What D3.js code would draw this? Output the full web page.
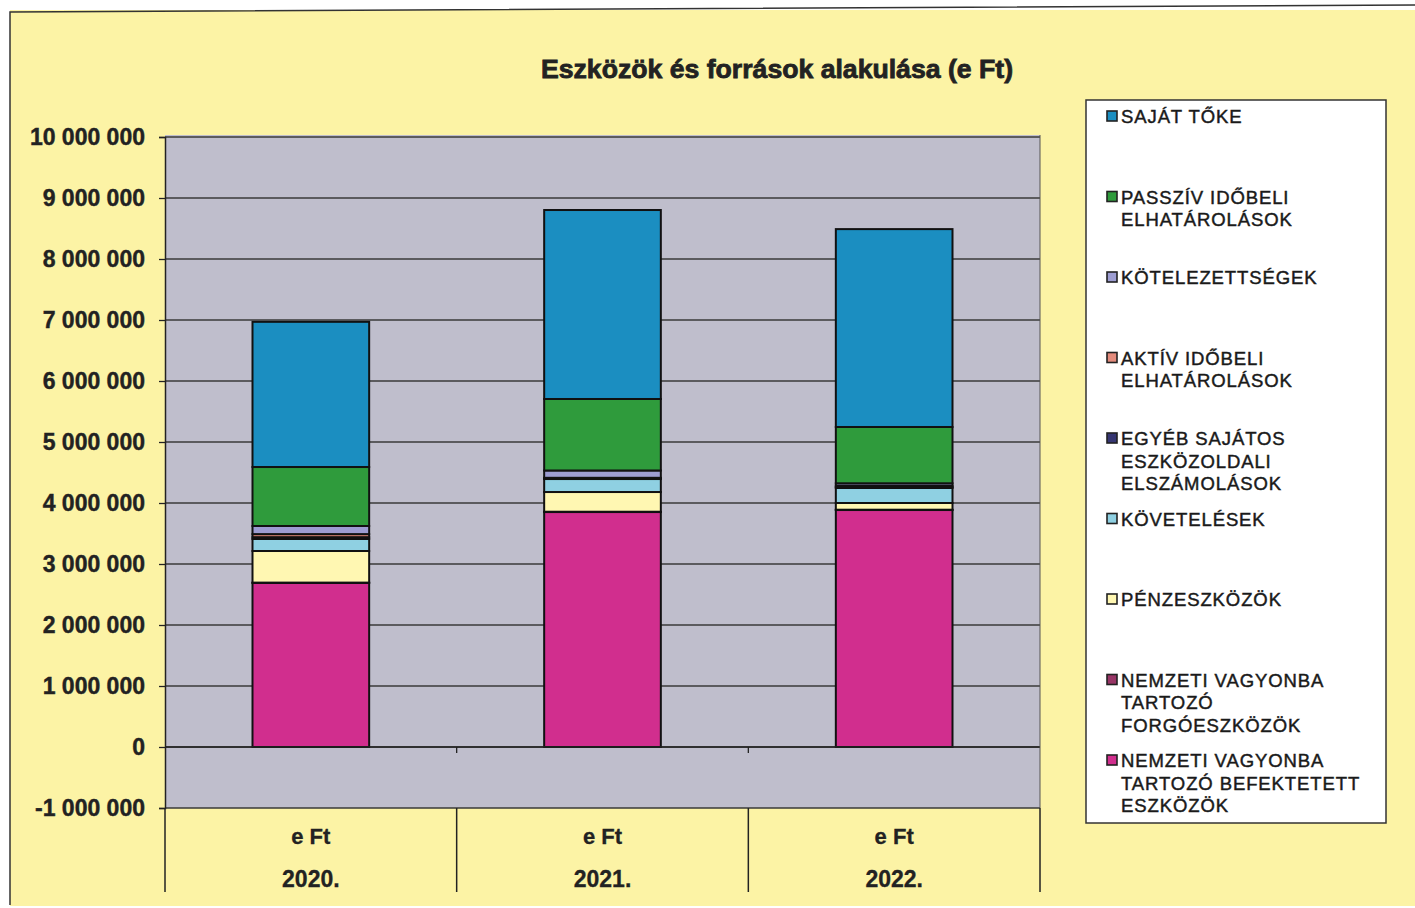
<!DOCTYPE html>
<html>
<head>
<meta charset="utf-8">
<script src="https://cdn.jsdelivr.net/npm/d3@7"></script>
<style>
  html, body { margin: 0; padding: 0; background: #ffffff; }
  svg { display: block; }
  text { font-family: "Liberation Sans", Arial, sans-serif; }
</style>
</head>
<body>
<svg id="chart" width="1415" height="908"></svg>
<script>
// ---- data ----
const years = ["2020.", "2021.", "2022."];
const unitLabel = "e Ft";
const title = "Eszközök és források alakulása (e Ft)";
const yTicks = [-1000000, 0, 1000000, 2000000, 3000000, 4000000, 5000000, 6000000, 7000000, 8000000, 9000000, 10000000];

// series from bottom of the stack to top
const seriesNames = [
  "NEMZETI VAGYONBA TARTOZÓ BEFEKTETETT ESZKÖZÖK",
  "NEMZETI VAGYONBA TARTOZÓ FORGÓESZKÖZÖK",
  "PÉNZESZKÖZÖK",
  "KÖVETELÉSEK",
  "EGYÉB SAJÁTOS ESZKÖZOLDALI ELSZÁMOLÁSOK",
  "AKTÍV IDŐBELI ELHATÁROLÁSOK",
  "KÖTELEZETTSÉGEK",
  "PASSZÍV IDŐBELI ELHATÁROLÁSOK",
  "SAJÁT TŐKE"
];
// legend line breaks (same order as seriesNames)
const legendLines = [
  ["NEMZETI VAGYONBA", "TARTOZÓ BEFEKTETETT", "ESZKÖZÖK"],
  ["NEMZETI VAGYONBA", "TARTOZÓ", "FORGÓESZKÖZÖK"],
  ["PÉNZESZKÖZÖK"],
  ["KÖVETELÉSEK"],
  ["EGYÉB SAJÁTOS", "ESZKÖZOLDALI", "ELSZÁMOLÁSOK"],
  ["AKTÍV IDŐBELI", "ELHATÁROLÁSOK"],
  ["KÖTELEZETTSÉGEK"],
  ["PASSZÍV IDŐBELI", "ELHATÁROLÁSOK"],
  ["SAJÁT TŐKE"]
];
const befektetett   = [2690000, 3852000, 3885000];
const forgo         = [5000, 5000, 5000];
const penzeszkozok  = [518000, 323000, 110000];
const kovetelesek   = [197000, 213000, 246000];
const egyeb         = [30000, 10000, 15000];
const aktiv         = [50000, 10000, 20000];
const kotelezettseg = [133000, 120000, 42000];
const passziv       = [967000, 1172000, 923000];
const sajatToke     = [2380000, 3098000, 3244000];
const seriesValues = [befektetett, forgo, penzeszkozok, kovetelesek, egyeb, aktiv, kotelezettseg, passziv, sajatToke];
const colors = ["#d12e8e", "#983566", "#fff7b2", "#8fd0e2", "#363672", "#e38b7c", "#9d9dd2", "#2f9b3c", "#1b8ec1"];

// ---- layout ----
const svg = d3.select("#chart");
const W = 1415, H = 908;
const plotL = 165, plotR = 1040;

// background panel
svg.append("rect").attr("x", 10).attr("y", 10).attr("width", W - 10).attr("height", H - 12)
  .attr("fill", "#fcf3a5");
svg.append("path").attr("d", `M10,905 L10,12 Q700,8 1415,5`)
  .attr("fill", "none").attr("stroke", "#333").attr("stroke-width", 1.5);

// title
svg.append("text").attr("x", 777).attr("y", 78).attr("text-anchor", "middle")
  .attr("font-size", 26).attr("font-weight", "bold").attr("fill", "#222")
  .attr("stroke", "#222").attr("stroke-width", 0.8)
  .attr("textLength", 472).attr("lengthAdjust", "spacingAndGlyphs")
  .text(title);

const y = d3.scaleLinear().domain([-1000000, 10000000]).range([808, 137]);
const x = d3.scaleBand().domain(years).range([plotL, plotR]).padding(0);

// plot area
svg.append("rect").attr("x", plotL).attr("y", y(10000000) - 2)
  .attr("width", plotR - plotL).attr("height", y(-1000000) - y(10000000) + 2)
  .attr("fill", "#bfbecc");

// gridlines
svg.append("g").selectAll("line").data(yTicks).join("line")
  .attr("x1", plotL).attr("x2", plotR)
  .attr("y1", d => y(d)).attr("y2", d => y(d))
  .attr("stroke", "#3a3a3a").attr("stroke-width", 1.3);

// y axis
const yAxis = d3.axisLeft(y).tickValues(yTicks).tickSize(6).tickPadding(14)
  .tickFormat(d => d3.format(",")(d).replace(/,/g, " ").replace("−", "-"));
const gy = svg.append("g").attr("transform", `translate(${plotL},0)`).call(yAxis);
gy.select(".domain").attr("stroke", "#222").attr("stroke-width", 1.5);
gy.selectAll(".tick line").attr("stroke", "#222").attr("stroke-width", 1.3);
gy.selectAll(".tick text").attr("font-size", 23).attr("font-weight", "bold")
  .attr("fill", "#222").attr("stroke", "#222").attr("stroke-width", 0.4)
  .attr("font-family", "Liberation Sans, Arial, sans-serif");

// stacked bars
const table = years.map((yr, i) => {
  const row = { year: yr };
  seriesNames.forEach((s, k) => row[s] = seriesValues[k][i]);
  return row;
});
const stacked = d3.stack().keys(seriesNames)(table);
const barW = x.bandwidth() * 0.4;
svg.append("g").selectAll("g").data(stacked).join("g")
  .attr("fill", (d, i) => colors[i])
  .selectAll("rect").data(d => d).join("rect")
  .attr("x", d => x(d.data.year) + (x.bandwidth() - barW) / 2)
  .attr("width", barW)
  .attr("y", d => y(d[1]))
  .attr("height", d => y(d[0]) - y(d[1]))
  .attr("stroke", "#111").attr("stroke-width", 2);

// zero category axis line with ticks at band boundaries
svg.append("line").attr("x1", plotL).attr("x2", plotR).attr("y1", y(0)).attr("y2", y(0))
  .attr("stroke", "#222").attr("stroke-width", 1.5);
const bounds = years.map(d => x(d)).concat([plotR]);
svg.append("g").selectAll("line").data(bounds.slice(1, -1)).join("line")
  .attr("x1", d => d).attr("x2", d => d).attr("y1", y(0)).attr("y2", y(0) + 6)
  .attr("stroke", "#222").attr("stroke-width", 1.3);

// category label area separators
svg.append("g").selectAll("line").data(bounds).join("line")
  .attr("x1", d => d).attr("x2", d => d).attr("y1", y(-1000000)).attr("y2", 892)
  .attr("stroke", "#222").attr("stroke-width", 1.5);
svg.append("line").attr("x1", plotR).attr("x2", plotR).attr("y1", y(10000000) - 2).attr("y2", y(-1000000))
  .attr("stroke", "#555").attr("stroke-width", 1);

const cat = svg.append("g").selectAll("g").data(years).join("g")
  .attr("transform", d => `translate(${x(d) + x.bandwidth() / 2},0)`);
cat.append("text").attr("y", 844).attr("text-anchor", "middle")
  .attr("font-size", 22).attr("font-weight", "bold").attr("fill", "#222")
  .attr("stroke", "#222").attr("stroke-width", 0.3).text(unitLabel);
cat.append("text").attr("y", 887).attr("text-anchor", "middle")
  .attr("font-size", 23).attr("font-weight", "bold").attr("fill", "#222")
  .attr("stroke", "#222").attr("stroke-width", 0.3).text(d => d);

// legend
const lg = svg.append("g");
lg.append("rect").attr("x", 1086).attr("y", 100).attr("width", 300).attr("height", 723)
  .attr("fill", "#ffffff").attr("stroke", "#333").attr("stroke-width", 1.5);
const legendOrder = d3.range(seriesNames.length).reverse();
const items = lg.selectAll("g.item").data(legendOrder).join("g").attr("class", "item")
  .attr("transform", (d, j) => `translate(1107,${116 + j * 80.5})`);
items.append("rect").attr("x", 0).attr("y", -5).attr("width", 10).attr("height", 10)
  .attr("fill", d => colors[d]).attr("stroke", "#222").attr("stroke-width", 1.6);
items.each(function(d) {
  const t = d3.select(this).append("text").attr("x", 14).attr("y", 0)
    .attr("font-size", 18.5).attr("fill", "#1a1a1a").attr("stroke", "#1a1a1a").attr("stroke-width", 0.45)
    .attr("letter-spacing", 0.9).attr("dominant-baseline", "central");
  legendLines[d].forEach((ln, li) => {
    t.append("tspan").attr("x", 14).attr("dy", li === 0 ? 0 : 22.5).text(ln);
  });
});
</script>
</body>
</html>
